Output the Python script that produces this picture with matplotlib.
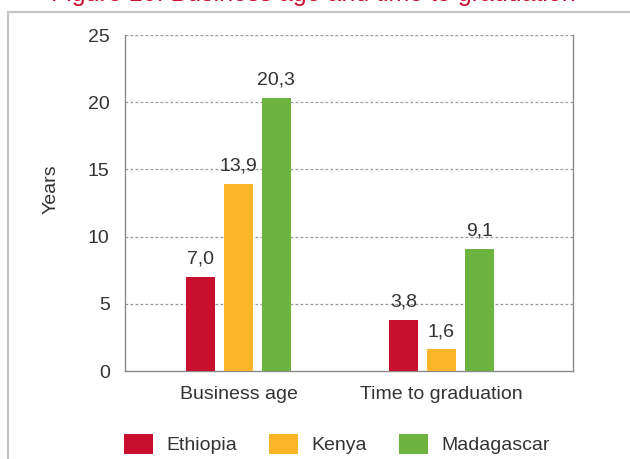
import matplotlib
matplotlib.use("Agg")
import matplotlib.pyplot as plt
from matplotlib.patches import Rectangle, Patch
import numpy as np

plt.rcParams['font.family'] = ['Liberation Sans', 'DejaVu Sans']

categories = ["Business age", "Time to graduation"]
countries = ["Ethiopia", "Kenya", "Madagascar"]
values = {
    "Ethiopia": [7.0, 3.8],
    "Kenya": [13.9, 1.6],
    "Madagascar": [20.3, 9.1],
}
colors = {"Ethiopia": "#C8102E", "Kenya": "#FBB526", "Madagascar": "#6DB33F"}
yticks = [0, 5, 10, 15, 20, 25]
title = "Figure 10: Business age and time to graduation"

text_color = "#333333"
fig = plt.figure(figsize=(6.30, 4.59), dpi=100)
ax = fig.add_axes([125 / 630, 1 - 371 / 459, 448 / 630, 336 / 459])

x = np.arange(len(categories))
bar_w = 0.145
step = 0.187
for i, c in enumerate(countries):
    pos = x + (i - 1) * step
    bars = ax.bar(pos, values[c], width=bar_w, color=colors[c], zorder=3)
    for b, v in zip(bars, values[c]):
        ax.annotate(f"{v:.1f}".replace(".", ","),
                    (b.get_x() + b.get_width() / 2, v),
                    xytext=(0, 9.5), textcoords="offset points",
                    ha="center", va="baseline", fontsize=14, color=text_color)

ax.set_xlim(-0.559, 1.648)
ax.set_ylim(0, 25)
ax.set_yticks(yticks)
ax.set_yticklabels([str(t) for t in yticks])
ax.set_xticks(x)
ax.set_xticklabels(categories)
ax.tick_params(axis="both", length=0, labelsize=14, labelcolor=text_color)
ax.tick_params(axis="y", pad=11)
ax.tick_params(axis="x", pad=11)

for yv in yticks[1:]:
    ax.axhline(yv, color="#9a9a9a", lw=0.9, ls=(0, (2.2, 1.8)), zorder=1)

ax.spines["top"].set_visible(False)
for s in ("left", "bottom", "right"):
    ax.spines[s].set_color("#8a8a8a")
    ax.spines[s].set_linewidth(1.0)
ax.spines["right"].set_bounds(0, 25)

ax.set_ylabel("Years", fontsize=14, color=text_color)
ax.yaxis.set_label_coords(-0.147, 0.54)

handles = [Patch(facecolor=colors[c], edgecolor="none", label=c) for c in countries]
leg = fig.legend(handles=handles, loc="center", bbox_to_anchor=(0.535, 1 - 444 / 459),
                 ncol=3, frameon=False, fontsize=14, handlelength=1.5,
                 handleheight=1.2, handletextpad=0.67, columnspacing=1.65,
                 borderaxespad=0, borderpad=0)
for t in leg.get_texts():
    t.set_color(text_color)

# outer frame around the chart
fig.add_artist(Rectangle((8 / 630, -0.05), 1.0, 1.05 - 12 / 459,
                         transform=fig.transFigure, fill=False,
                         edgecolor="#c4c4c4", lw=1.6))

fig.text(0.497, 1 - 0.5 / 459, title, ha="center", va="baseline",
         fontsize=18, color="#C8102E")

fig.savefig("out.png", dpi=100)
